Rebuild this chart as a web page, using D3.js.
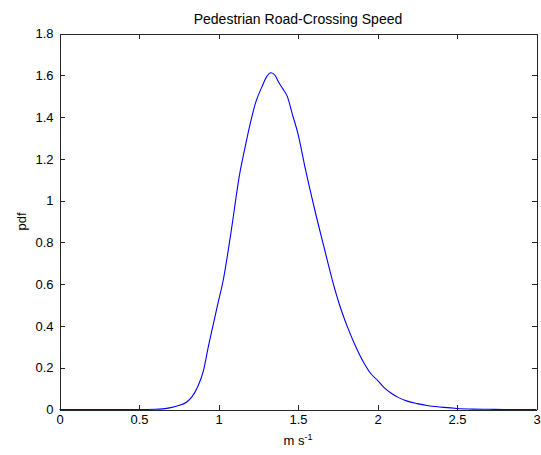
<!DOCTYPE html>
<html>
<head>
<meta charset="utf-8">
<script src="https://cdn.jsdelivr.net/npm/d3@7"></script>
<style>
  html, body { margin: 0; padding: 0; background: #fff; }
  svg { display: block; font-family: "Liberation Sans", Arial, Helvetica, sans-serif; }
  .axis path, .axis line { stroke: #262626; shape-rendering: crispEdges; }
  .axis text { fill: #000; font-size: 13px; }
</style>
</head>
<body>
<svg id="chart" width="541" height="455"></svg>
<script>
// Estimated probability density of pedestrian road-crossing speed (m/s)
const speed = [0, 0.25, 0.5, 0.6, 0.65, 0.7, 0.75, 0.8, 0.835, 0.87, 0.905, 0.94, 0.97, 1.0, 1.03, 1.075,
  1.135, 1.165, 1.2, 1.233, 1.275, 1.3, 1.33, 1.355, 1.38, 1.405, 1.432, 1.465, 1.5, 1.547,
  1.6, 1.662, 1.715, 1.757, 1.809, 1.862, 1.914, 1.96, 2.0, 2.04, 2.082, 2.13, 2.187, 2.25,
  2.312, 2.365, 2.417, 2.5, 2.6, 2.7, 2.8, 3.0];
const pdf = [0, 0, 0, 0.001, 0.003, 0.009, 0.019, 0.036, 0.063, 0.11, 0.185, 0.315, 0.417, 0.52, 0.62, 0.83,
  1.135, 1.248, 1.37, 1.468, 1.548, 1.59, 1.612, 1.6, 1.564, 1.535, 1.50, 1.412, 1.32, 1.149,
  0.973, 0.782, 0.622, 0.511, 0.399, 0.303, 0.224, 0.17, 0.140, 0.106, 0.080, 0.058, 0.040, 0.028,
  0.019, 0.014, 0.010, 0.005, 0.002, 0.001, 0, 0];
const xTicks = [0, 0.5, 1, 1.5, 2, 2.5, 3];
const yTicks = [0, 0.2, 0.4, 0.6, 0.8, 1, 1.2, 1.4, 1.6, 1.8];

const svg = d3.select("#chart");
const plotLeft = 59.5, plotRight = 536.5, plotTop = 33.5, plotBottom = 409.5;

const x = d3.scaleLinear().domain([0, 3]).range([plotLeft, plotRight]);
const y = d3.scaleLinear().domain([0, 1.8]).range([plotBottom, plotTop]);

// Bottom axis with inward ticks and labels
svg.append("g").attr("class", "axis")
  .attr("transform", `translate(0,${plotBottom})`)
  .call(d3.axisBottom(x).tickValues(xTicks).tickFormat(d3.format("~g"))
    .tickSizeInner(-5).tickSizeOuter(0).tickPadding(5));

// Top axis (ticks only)
svg.append("g").attr("class", "axis")
  .attr("transform", `translate(0,${plotTop})`)
  .call(d3.axisTop(x).tickValues(xTicks).tickFormat("")
    .tickSizeInner(-5).tickSizeOuter(0));

// Left axis with inward ticks and labels
svg.append("g").attr("class", "axis")
  .attr("transform", `translate(${plotLeft},0)`)
  .call(d3.axisLeft(y).tickValues(yTicks).tickFormat(d3.format("~g"))
    .tickSizeInner(-5).tickSizeOuter(0).tickPadding(6));

// Right axis (ticks only)
svg.append("g").attr("class", "axis")
  .attr("transform", `translate(${plotRight},0)`)
  .call(d3.axisRight(y).tickValues(yTicks).tickFormat("")
    .tickSizeInner(-5).tickSizeOuter(0));

// Density curve
const line = d3.line()
  .x((d, i) => x(speed[i]))
  .y(d => y(d))
  .curve(d3.curveMonotoneX);
svg.append("path")
  .datum(pdf)
  .attr("fill", "none")
  .attr("stroke", "#0000ff")
  .attr("stroke-width", 1.1)
  .attr("d", line);

// Title
svg.append("text")
  .attr("x", (plotLeft + plotRight) / 2).attr("y", 23.5)
  .attr("text-anchor", "middle")
  .attr("font-size", 14)
  .text("Pedestrian Road-Crossing Speed");

// X-axis label: m s^-1
const xl = svg.append("text")
  .attr("x", (plotLeft + plotRight) / 2).attr("y", 445)
  .attr("text-anchor", "middle")
  .attr("font-size", 13);
xl.append("tspan").text("m s");
xl.append("tspan").attr("dy", -5).attr("font-size", 9).text("-1");

// Y-axis label
svg.append("text")
  .attr("transform", `translate(26,${(plotTop + plotBottom) / 2}) rotate(-90)`)
  .attr("text-anchor", "middle")
  .attr("font-size", 13)
  .text("pdf");
</script>
</body>
</html>
